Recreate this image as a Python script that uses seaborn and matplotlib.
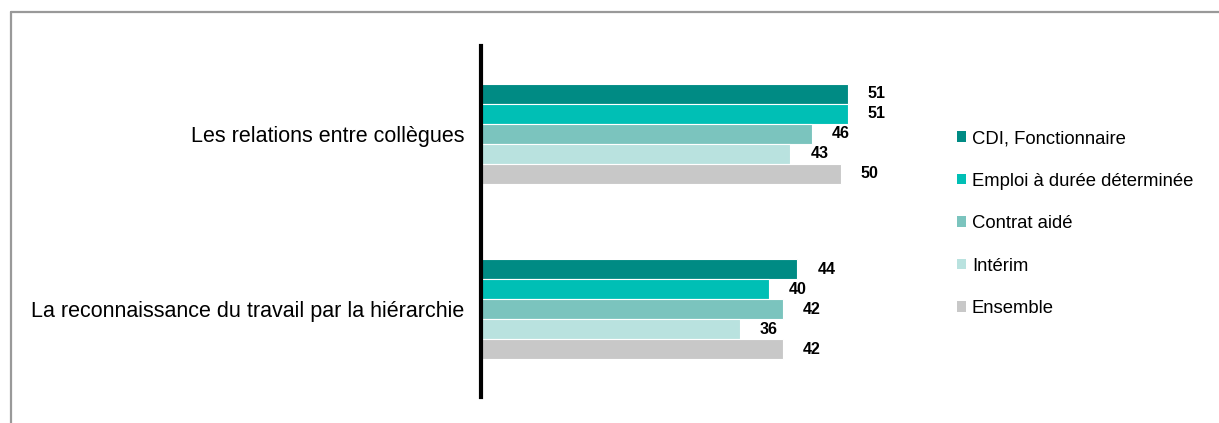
import matplotlib
matplotlib.use("Agg")
import matplotlib.pyplot as plt
import seaborn as sns
import pandas as pd
from matplotlib.patches import Patch
from matplotlib.lines import Line2D

categories = ["Les relations entre collègues",
              "La reconnaissance du travail par la hiérarchie"]
series = ["CDI, Fonctionnaire", "Emploi à durée déterminée", "Contrat aidé",
          "Intérim", "Ensemble"]
cdi = [51, 44]
edd = [51, 40]
aide = [46, 42]
interim = [43, 36]
ensemble = [50, 42]
colors = ["#008B84", "#00BFB5", "#7BC4BE", "#B9E2DF", "#C8C8C8"]

values = [cdi, edd, aide, interim, ensemble]
rows = []
for s, vals in zip(series, values):
    for c, v in zip(categories, vals):
        rows.append({"cat": c, "serie": s, "val": v})
df = pd.DataFrame(rows)

sns.set_style("white")
plt.rcParams["font.family"] = ["Liberation Sans", "DejaVu Sans"]

fig = plt.figure(figsize=(12.19, 4.23), dpi=100)
ax = fig.add_axes([0.3946, 0.0615, 0.354, 0.8295])

sns.barplot(data=df, y="cat", x="val", hue="serie", order=categories,
            hue_order=series, palette=colors, orient="h", width=0.57,
            saturation=1, edgecolor="white", linewidth=0.8, ax=ax,
            legend=False)

for cont in ax.containers:
    ax.bar_label(cont, fmt="%d", padding=14.5, fontsize=11.5, fontweight="bold",
                 color="black")

ax.set_xlim(0, 60)
ax.set_ylim(1.5, -0.5)
ax.set_xlabel("")
ax.set_ylabel("")
ax.set_xticks([])
ax.tick_params(axis="y", length=0, pad=12, labelsize=15.5, labelcolor="black")
for sp in ["top", "right", "bottom"]:
    ax.spines[sp].set_visible(False)
ax.spines["left"].set_linewidth(3)
ax.spines["left"].set_color("black")

handles = [Patch(facecolor=c, edgecolor="none") for c in colors]
fig.legend(handles, series, loc="upper left", bbox_to_anchor=(0.779, 0.71),
           frameon=False, fontsize=13.3, handlelength=0.5, handleheight=0.5,
           handletextpad=0.3, labelspacing=1.38, borderaxespad=0,
           labelcolor="black")

# outer frame (top and left only)
fig.add_artist(Line2D([11 / 1219, 1.0], [1 - 12 / 423, 1 - 12 / 423],
                      transform=fig.transFigure, color="#999999", lw=1.6))
fig.add_artist(Line2D([11 / 1219, 11 / 1219], [0.0, 1 - 12 / 423],
                      transform=fig.transFigure, color="#999999", lw=1.6))

fig.savefig("out.png", dpi=100)
